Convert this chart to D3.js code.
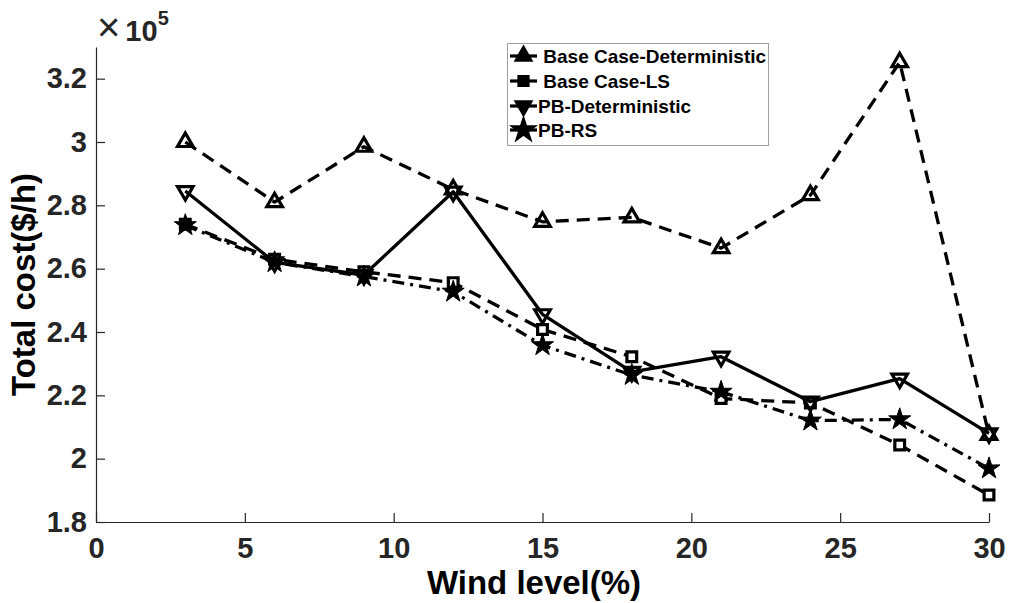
<!DOCTYPE html>
<html>
<head>
<meta charset="utf-8">
<script src="https://cdn.jsdelivr.net/npm/d3@7"></script>
<style>
  body { margin: 0; background: #fff; }
  text { font-family: "Liberation Sans", Arial, Helvetica, sans-serif; }
</style>
</head>
<body>
<svg id="chart" width="1010" height="603"></svg>
<script>
// Wind penetration levels (%)
const windLevels = [3, 6, 9, 12, 15, 18, 21, 24, 27, 30];

// Total cost ($/h) for each case
const baseDeterministic = [300000, 281000, 298500, 285000, 274800, 276200, 266500, 283200, 325200, 207500];
const baseLS            = [274000, 263000, 259000, 255600, 240800, 232200, 219000, 217600, 204300, 188500];
const pbDeterministic   = [284500, 262000, 258000, 284300, 245600, 227400, 232200, 218000, 225300, 208000];
const pbRS              = [273700, 262000, 257500, 252700, 235800, 226400, 221100, 212000, 212400, 196900];

const seriesNames = [" Base Case-Deterministic", " Base Case-LS", "PB-Deterministic", "PB-RS"];

const xTickValues = [0, 5, 10, 15, 20, 25, 30];
const yTickValues = [180000, 200000, 220000, 240000, 260000, 280000, 300000, 320000];

const svg = d3.select("#chart");
const margin = { left: 96, right: 21, top: 47, bottom: 81 };
const W = 1010, H = 603;

const x = d3.scaleLinear().domain([0, 30]).range([margin.left, W - margin.right]);
const y = d3.scaleLinear().domain([180000, 330000]).range([H - margin.bottom, margin.top]);

const axisColor = "#262626";

// Axes
const gx = svg.append("g")
  .attr("transform", `translate(0,${H - margin.bottom})`)
  .call(d3.axisBottom(x).tickValues(xTickValues).tickSize(-9).tickSizeOuter(0).tickPadding(15)
        .tickFormat(d3.format("d")));
const gy = svg.append("g")
  .attr("transform", `translate(${margin.left},0)`)
  .call(d3.axisLeft(y).tickValues(yTickValues).tickSize(-9).tickSizeOuter(0).tickPadding(9)
        .tickFormat(d => d3.format("~g")(d / 1e5)));

[gx, gy].forEach(g => {
  g.select(".domain").attr("stroke", axisColor).attr("stroke-width", 1.2);
  g.selectAll(".tick line").attr("stroke", axisColor).attr("stroke-width", 1.2);
  g.selectAll(".tick text")
    .attr("fill", axisColor)
    .style("font-size", "29px")
    .style("font-weight", "bold")
    .style("font-family", '"Liberation Sans", Arial, sans-serif');
});

// Exponent label
const expo = svg.append("text").attr("x", 97).attr("y", 41).attr("fill", axisColor)
  .style("font-size", "40px");
expo.append("tspan").text("\u00d7");
expo.append("tspan").attr("dx", 5).style("font-size", "29px").style("font-weight", "bold").text("10");
expo.append("tspan").attr("dy", -16).style("font-size", "20px").style("font-weight", "bold").text("5");

// Axis titles
svg.append("text")
  .attr("transform", `translate(35,${(margin.top + H - margin.bottom) / 2}) rotate(-90)`)
  .attr("text-anchor", "middle")
  .style("font-size", "33px").style("font-weight", "bold")
  .text("Total cost($/h)");
svg.append("text")
  .attr("x", 534).attr("y", 594)
  .attr("text-anchor", "middle")
  .style("font-size", "33px").style("font-weight", "bold")
  .text("Wind level(%)");

// Series definitions
const series = [
  { name: seriesNames[0], values: baseDeterministic, dash: "13,8",       marker: "triUp" },
  { name: seriesNames[1], values: baseLS,            dash: "13,8",       marker: "square" },
  { name: seriesNames[2], values: pbDeterministic,   dash: null,         marker: "triDown" },
  { name: seriesNames[3], values: pbRS,              dash: "12,6,3,6",   marker: "star" }
];

function markerPath(kind, scale = 1) {
  if (kind === "triUp" || kind === "triDown") return d3.symbol().type(d3.symbolTriangle).size(105 * scale)();
  if (kind === "square") return d3.symbol().type(d3.symbolSquare).size(95 * scale)();
  return d3.symbol().type(d3.symbolStar).size(150 * scale)();
}
function markerRotate(kind) { return kind === "triDown" ? " rotate(180)" : ""; }

const line = d3.line().x(d => x(d[0])).y(d => y(d[1]));

series.forEach(s => {
  const pts = windLevels.map((w, i) => [w, s.values[i]]);
  const g = svg.append("g");
  g.append("path")
    .attr("d", line(pts))
    .attr("fill", "none")
    .attr("stroke", "#000")
    .attr("stroke-width", 3.3)
    .attr("stroke-linejoin", "round")
    .attr("stroke-dasharray", s.dash);
  g.selectAll("path.mk").data(pts).join("path")
    .attr("class", "mk")
    .attr("d", markerPath(s.marker))
    .attr("transform", d => `translate(${x(d[0])},${y(d[1])})${markerRotate(s.marker)}`)
    .attr("fill", s.marker === "star" ? "#000" : (s.marker === "square" ? "#fff" : "none"))
    .attr("stroke", "#000")
    .attr("stroke-width", s.marker === "star" ? 1 : 3.2);
});

// Legend
const legend = svg.append("g");
legend.append("rect")
  .attr("x", 507.5).attr("y", 43.5).attr("width", 261).attr("height", 102)
  .attr("fill", "#fff").attr("stroke", "#a0a0a0").attr("stroke-width", 1);
const rowY = [56, 81, 106, 130];
series.forEach((s, i) => {
  const gy0 = rowY[i];
  legend.append("line")
    .attr("x1", 510).attr("x2", 537).attr("y1", gy0).attr("y2", gy0)
    .attr("stroke", "#000").attr("stroke-width", 3.2);
  legend.append("path")
    .attr("d", markerPath(s.marker, 1.1))
    .attr("transform", `translate(523.5,${gy0})${markerRotate(s.marker)}`)
    .attr("fill", "#000").attr("stroke", "#000").attr("stroke-width", 2);
  legend.append("text")
    .attr("x", 538).attr("y", gy0).attr("dy", "0.35em")
    .style("white-space", "pre")
    .style("font-size", "19px").style("font-weight", "bold")
    .text(s.name);
});
</script>
</body>
</html>
